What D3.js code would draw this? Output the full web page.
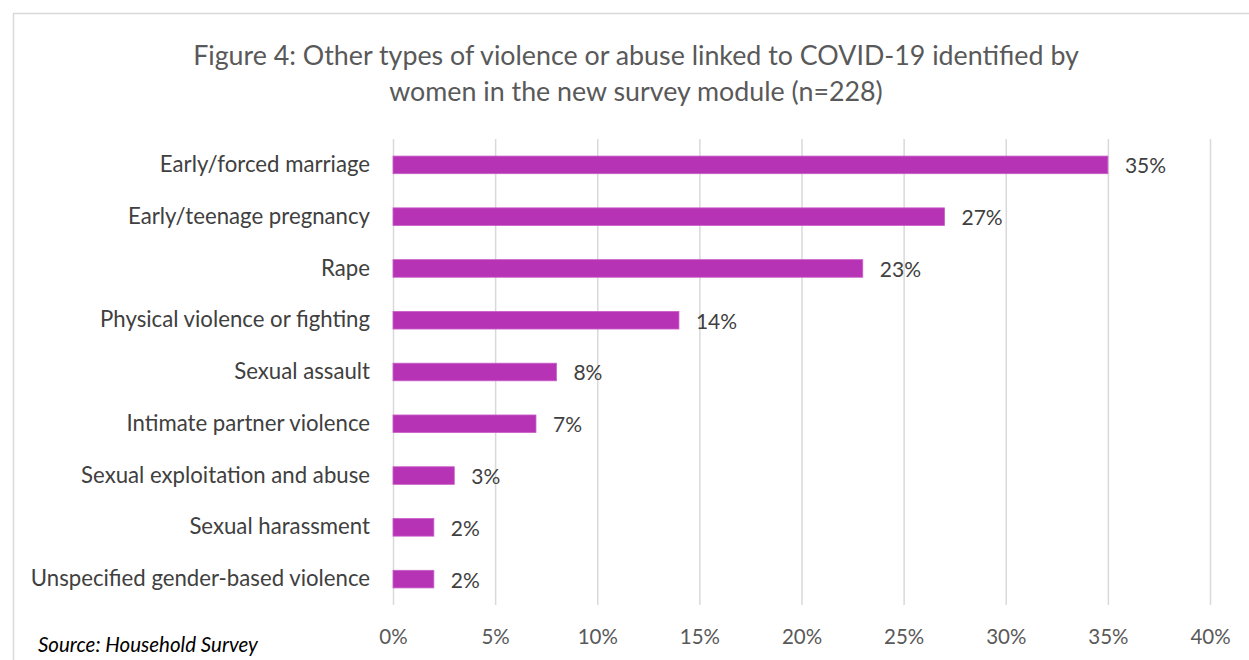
<!DOCTYPE html>
<html>
<head>
<meta charset="utf-8">
<script src="https://cdn.jsdelivr.net/npm/d3@7"></script>
<style>
  html, body { margin: 0; padding: 0; background: #fff; }
  svg { display: block; }
</style>
</head>
<body>
<svg id="chart" width="1249" height="660"></svg>
<script>
// Types of violence or abuse and the share of women naming each one
const categories = [
  "Early/forced marriage",
  "Early/teenage pregnancy",
  "Rape",
  "Physical violence or fighting",
  "Sexual assault",
  "Intimate partner violence",
  "Sexual exploitation and abuse",
  "Sexual harassment",
  "Unspecified gender-based violence"
];
const shares = [0.35, 0.27, 0.23, 0.14, 0.08, 0.07, 0.03, 0.02, 0.02];
const tickValues = [0, 0.05, 0.10, 0.15, 0.20, 0.25, 0.30, 0.35, 0.40];
const titleLines = [
  "Figure 4: Other types of violence or abuse linked to COVID-19 identified by",
  "women in the new survey module (n=228)"
];
const sourceNote = "Source: Household Survey";

const FONT = "Lato, 'Open Sans', sans-serif";
const svg = d3.select("#chart");

// Chart frame (open on the right and bottom where the page ends)
svg.append("path")
  .attr("d", "M13.5,700 L13.5,13.5 L1260,13.5")
  .attr("fill", "none")
  .attr("stroke", "#d9d9d9")
  .attr("stroke-width", 1.5);

const x = d3.scaleLinear().domain([0, 0.40]).range([393, 1210]);
const y = d3.scaleBand().domain(categories).range([139, 605])
  .paddingInner(0.66).paddingOuter(0.33);

// Title
svg.append("g").selectAll("text")
  .data(titleLines)
  .join("text")
  .attr("x", 636)
  .attr("y", (d, i) => 65 + i * 36)
  .attr("text-anchor", "middle")
  .attr("font-family", FONT)
  .attr("font-size", 26.8)
  .attr("fill", "#595959")
  .text(d => d);

// Vertical gridlines with percentage labels underneath
const xAxis = d3.axisBottom(x)
  .tickValues(tickValues)
  .tickFormat(d3.format(".0%"))
  .tickSize(-(605 - 139))
  .tickPadding(24);

const gx = svg.append("g")
  .attr("transform", "translate(0,605)")
  .call(xAxis);
gx.select(".domain").remove();
gx.selectAll(".tick line")
  .attr("stroke", "#d9d9d9")
  .attr("stroke-width", 1.5);
gx.selectAll(".tick text")
  .attr("font-family", FONT)
  .attr("font-size", 20.5)
  .attr("fill", "#595959");

// Category labels
const yAxis = d3.axisLeft(y).tickSize(0).tickPadding(23);
const gy = svg.append("g")
  .attr("transform", "translate(393,0)")
  .call(yAxis);
gy.select(".domain").remove();
gy.selectAll(".tick text")
  .attr("font-family", FONT)
  .attr("font-size", 22.2)
  .attr("fill", "#404040");

// Bars
svg.append("g").selectAll("rect")
  .data(categories)
  .join("rect")
  .attr("x", x(0))
  .attr("y", d => y(d))
  .attr("width", (d, i) => x(shares[i]) - x(0))
  .attr("height", y.bandwidth())
  .attr("fill", "#b733b5")
  .attr("stroke", "#c95ec7")
  .attr("stroke-width", 0.8);

// Value labels at the end of each bar
svg.append("g").selectAll("text")
  .data(categories)
  .join("text")
  .attr("x", (d, i) => x(shares[i]) + 17)
  .attr("y", d => y(d) + y.bandwidth() / 2)
  .attr("dy", "0.4em")
  .attr("font-family", FONT)
  .attr("font-size", 21)
  .attr("fill", "#404040")
  .text((d, i) => d3.format(".0%")(shares[i]));

// Source note
svg.append("text")
  .attr("x", 38)
  .attr("y", 652)
  .attr("font-family", FONT)
  .attr("font-style", "italic")
  .attr("font-size", 20.5)
  .attr("fill", "#000")
  .text(sourceNote);
</script>
</body>
</html>
